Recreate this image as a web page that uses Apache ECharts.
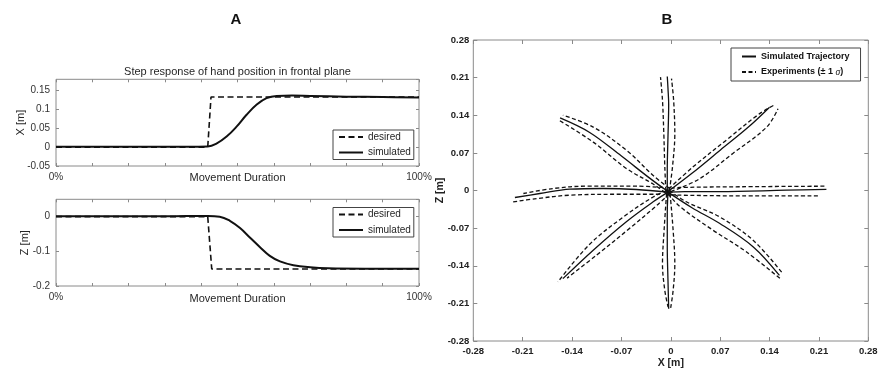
<!DOCTYPE html>
<html><head><meta charset="utf-8">
<script src="https://cdn.jsdelivr.net/npm/echarts@6/dist/echarts.min.js"></script>
<style>html,body{margin:0;padding:0;background:#fff}#c{width:879px;height:371px}</style>
</head><body><div id="c"></div><script>
// ---------- Panel A data (x in % of movement duration, y in m) ----------
const desiredX = [[0,0],[41.8,0],[42.7,0.133],[100,0.133]];
const simulatedX = [[0,0.001],[30,0.001],[41.8,0.002],[44.3,0.010],[47.0,0.028],[49.8,0.055],[52.5,0.086],[55.3,0.113],[58.0,0.130],[60.8,0.136],[65,0.137],[70,0.136],[80,0.134],[90,0.133],[100,0.132]];
const desiredZ = [[0,0],[41.8,0],[42.9,-0.151],[100,-0.151]];
const simulatedZ = [[0,0.001],[30,0.001],[41.8,0.002],[45.1,0.0],[47.9,-0.012],[50.7,-0.033],[53.4,-0.060],[56.2,-0.088],[58.9,-0.113],[61.7,-0.129],[65.4,-0.140],[70,-0.146],[75,-0.149],[85,-0.150],[100,-0.150]];

// ---------- Panel B data ([X, Z] in m) ----------
const simUp = [[-0.005,-0.003],[-0.005,0.04],[-0.004,0.10],[-0.003,0.16],[-0.004,0.19],[-0.005,0.212]];
const expUpL = [[-0.007,0.0],[-0.0085,0.044],[-0.0099,0.106],[-0.0118,0.168],[-0.0146,0.211]];
const expUpR = [[-0.002,0.0],[0.0024,0.044],[0.0057,0.106],[0.004,0.168],[0.001,0.208]];
const simDown = [[-0.004,-0.003],[-0.005,-0.043],[-0.005,-0.105],[-0.004,-0.167],[-0.003,-0.220]];
const expDownL = [[-0.006,-0.006],[-0.0095,-0.074],[-0.0118,-0.136],[-0.0085,-0.186],[-0.0038,-0.217]];
const expDownR = [[-0.001,-0.006],[0.0033,-0.074],[0.0057,-0.136],[0.0033,-0.186],[-0.0005,-0.221]];
const simRight = [[-0.004,-0.003],[0.02,-0.002],[0.069,-0.002],[0.164,0.0006],[0.2206,0.002]];
const expRightU = [[0.0,0.004],[0.0128,0.0056],[0.10,0.007],[0.218,0.008]];
const expRightL = [[0.0,-0.008],[0.0128,-0.0087],[0.10,-0.010],[0.209,-0.010]];
const simLeft = [[-0.004,-0.003],[-0.0486,0.0019],[-0.096,0.0037],[-0.143,0.0024],[-0.1856,-0.0056],[-0.221,-0.013]];
const expLeftU = [[-0.011,0.0056],[-0.0486,0.0081],[-0.119,0.0081],[-0.167,0.0037],[-0.209,-0.0056]];
const expLeftL = [[-0.0156,-0.007],[-0.072,-0.007],[-0.143,-0.0087],[-0.190,-0.015],[-0.227,-0.022]];
const simUL = [[-0.004,-0.002],[-0.03,0.023],[-0.07,0.064],[-0.115,0.108],[-0.157,0.135]];
const expULU = [[-0.002,0.004],[-0.025,0.028],[-0.063,0.075],[-0.110,0.118],[-0.153,0.140]];
const expULL = [[-0.008,-0.004],[-0.025,0.012],[-0.063,0.041],[-0.110,0.090],[-0.160,0.132]];
const simUR = [[-0.004,-0.002],[0.03,0.032],[0.07,0.075],[0.11,0.118],[0.140,0.155]];
const expURU = [[-0.003,0.003],[0.0316,0.044],[0.079,0.094],[0.126,0.143],[0.148,0.160]];
const expURL = [[0.0,-0.002],[0.041,0.022],[0.088,0.069],[0.136,0.118],[0.152,0.152]];
const simLL = [[-0.004,-0.003],[-0.025,-0.021],[-0.063,-0.058],[-0.110,-0.111],[-0.153,-0.164]];
const expLLU = [[-0.006,0.0],[-0.025,-0.012],[-0.065,-0.047],[-0.115,-0.100],[-0.160,-0.170]];
const expLLL = [[-0.002,-0.006],[-0.020,-0.028],[-0.058,-0.070],[-0.105,-0.120],[-0.147,-0.163]];
const simLR = [[-0.004,-0.003],[0.03,-0.032],[0.069,-0.061],[0.117,-0.105],[0.154,-0.158]];
const expLRU = [[-0.002,0.0],[0.022,-0.021],[0.069,-0.049],[0.117,-0.093],[0.159,-0.155]];
const expLRL = [[-0.004,-0.006],[0.013,-0.030],[0.060,-0.074],[0.107,-0.114],[0.157,-0.166]];
const centerPoint = [[-0.004,-0.003]];

const simTracks = [simUp, simDown, simRight, simLeft, simUL, simUR, simLL, simLR];
const expTracks = [expUpL, expUpR, expDownL, expDownR, expRightU, expRightL, expLeftU, expLeftL, expULU, expULL, expURU, expURL, expLLU, expLLL, expLRU, expLRL];

// ---------- Styling ----------
const FONT = 'Liberation Sans';
const boxColor = '#8a8a8a';
const tickColor = '#8a8a8a';
const round2 = v => { const r = Math.round(v*100)/100; return r === 0 ? '0' : String(r); };
const noLine = {show: false, onZero: false};

function aXAxes(grid, gap) {
  return [
    {gridIndex: grid, type: 'value', position: 'bottom', min: 0, max: 100, interval: 10,
     axisLine: noLine, splitLine: {show: false},
     axisTick: {show: true, inside: true, length: 3, lineStyle: {color: tickColor}},
     axisLabel: {fontSize: 10, fontFamily: FONT, color: '#333', margin: 6,
       formatter: v => v === 0 ? '0%' : (v === 100 ? '100%' : '')},
     name: 'Movement Duration', nameLocation: 'middle', nameGap: gap, nameMoveOverlap: false,
     nameTextStyle: {fontSize: 11, fontFamily: FONT, color: '#262626'}},
    {gridIndex: grid, type: 'value', position: 'top', min: 0, max: 100, interval: 10,
     axisLine: noLine, splitLine: {show: false}, axisLabel: {show: false},
     axisTick: {show: true, inside: true, length: 3, lineStyle: {color: tickColor}}}
  ];
}
function aYAxes(grid, min, max, interval, name, gap) {
  return [
    {gridIndex: grid, type: 'value', position: 'left', min, max, interval,
     axisLine: noLine, splitLine: {show: false},
     axisTick: {show: true, inside: true, length: 3, lineStyle: {color: tickColor}},
     axisLabel: {fontSize: 10, fontFamily: FONT, color: '#333', margin: 6, showMaxLabel: false,
       formatter: round2},
     name, nameLocation: 'middle', nameGap: gap, nameMoveOverlap: false,
     nameTextStyle: {fontSize: 11, fontFamily: FONT, color: '#262626'}},
    {gridIndex: grid, type: 'value', position: 'right', min, max, interval,
     axisLine: noLine, splitLine: {show: false}, axisLabel: {show: false},
     axisTick: {show: true, inside: true, length: 3, lineStyle: {color: tickColor}}}
  ];
}
function bAxis(isX) {
  const common = {gridIndex: 2, type: 'value', min: -0.28, max: 0.28, interval: 0.07,
    axisLine: noLine, splitLine: {show: false},
    axisTick: {show: true, inside: true, length: 4, lineStyle: {color: tickColor}}};
  return [
    Object.assign({}, common, {position: isX ? 'bottom' : 'left',
      axisLabel: {fontSize: 9.5, fontWeight: 'bold', fontFamily: FONT, color: '#222', margin: isX ? 5 : 4, formatter: round2},
      name: isX ? 'X [m]' : 'Z [m]', nameLocation: 'middle', nameGap: isX ? 17 : 28, nameMoveOverlap: false,
      nameTextStyle: {fontSize: 10.5, fontWeight: 'bold', fontFamily: FONT, color: '#222'}}),
    Object.assign({}, common, {position: isX ? 'top' : 'right', axisLabel: {show: false}})
  ];
}

const series = [];
function lineSeries(name, data, xi, yi, dashed, width, smooth) {
  return {type: 'line', name, data, xAxisIndex: xi, yAxisIndex: yi, symbol: 'none',
    smooth: smooth ? smooth : false, animation: false,
    lineStyle: {color: '#111', width, type: dashed ? dashed : 'solid', cap: 'butt'},
    itemStyle: {color: '#111'}};
}
series.push(lineSeries('desired', desiredX, 0, 0, [6, 3.5], 1.6, false));
series.push(lineSeries('simulated', simulatedX, 0, 0, null, 2, 0.4));
series.push(lineSeries('desired', desiredZ, 2, 2, [6, 3.5], 1.6, false));
series.push(lineSeries('simulated', simulatedZ, 2, 2, null, 2, 0.4));
simTracks.forEach(t => series.push(lineSeries('Simulated Trajectory', t, 4, 4, null, 1.3, 0.35)));
expTracks.forEach(t => series.push(lineSeries('Experiments (± 1 σ)', t, 4, 4, [4, 2.5], 1.3, 0.35)));
series.push({type: 'scatter', name: 'center', data: centerPoint, xAxisIndex: 4, yAxisIndex: 4,
  symbolSize: 6, itemStyle: {color: '#111'}, animation: false});

const hiddenSymbol = {color: 'rgba(0,0,0,0)', borderWidth: 0, opacity: 0};
const aLegend = (top) => ({
  orient: 'vertical', left: 333, top, padding: [2, 3, 2, 5], itemWidth: 24, itemHeight: 10, itemGap: 5.5,
  borderColor: '#444', borderWidth: 1, backgroundColor: '#fff', selectedMode: false,
  itemStyle: hiddenSymbol,
  data: ['desired', 'simulated'],
  textStyle: {fontSize: 10, fontFamily: FONT, color: '#262626'}
});

const option = {
  backgroundColor: '#fff',
  animation: false,
  grid: [
    {left: 56, top: 79.3, width: 363, height: 86.7, show: true, borderColor: boxColor, borderWidth: 1, outerBoundsMode: 'none'},
    {left: 56, top: 199.3, width: 363, height: 86.7, show: true, borderColor: boxColor, borderWidth: 1, outerBoundsMode: 'none'},
    {left: 473.3, top: 40, width: 395, height: 301, show: true, borderColor: boxColor, borderWidth: 1, outerBoundsMode: 'none'}
  ],
  xAxis: [].concat(aXAxes(0, 6), aXAxes(1, 7.5), bAxis(true)),
  yAxis: [].concat(aYAxes(0, -0.05, 0.18, 0.05, 'X [m]', 30), aYAxes(1, -0.2, 0.05, 0.1, 'Z [m]', 25.5), bAxis(false)),
  legend: [
    aLegend(130),
    aLegend(207.5),
    {orient: 'vertical', left: 731, top: 48, padding: [4, 11, 4, 10], itemWidth: 14, itemHeight: 10, itemGap: 6,
     borderColor: '#444', borderWidth: 1, backgroundColor: '#fff', selectedMode: false,
     itemStyle: hiddenSymbol,
     data: ['Simulated Trajectory', 'Experiments (± 1 σ)'],
     formatter: n => n.replace('σ', '{i|σ}'),
     textStyle: {fontSize: 9, fontWeight: 'bold', fontFamily: FONT, color: '#111',
       rich: {i: {fontSize: 9.5, fontStyle: 'italic', fontWeight: 'normal', fontFamily: 'Liberation Serif', color: '#111'}}}}
  ],
  graphic: [
    {type: 'text', x: 236, y: 20, style: {text: 'A', font: 'bold 15px ' + FONT, fill: '#111', textAlign: 'center', textVerticalAlign: 'middle'}},
    {type: 'text', x: 667, y: 20, style: {text: 'B', font: 'bold 15px ' + FONT, fill: '#111', textAlign: 'center', textVerticalAlign: 'middle'}},
    {type: 'text', x: 237.5, y: 72, style: {text: 'Step response of hand position in frontal plane', font: '11px ' + FONT, fill: '#262626', textAlign: 'center', textVerticalAlign: 'middle'}}
  ],
  series
};
const chart = echarts.init(document.getElementById('c'), null, {renderer: 'canvas'});
chart.setOption(option);
</script></body></html>
